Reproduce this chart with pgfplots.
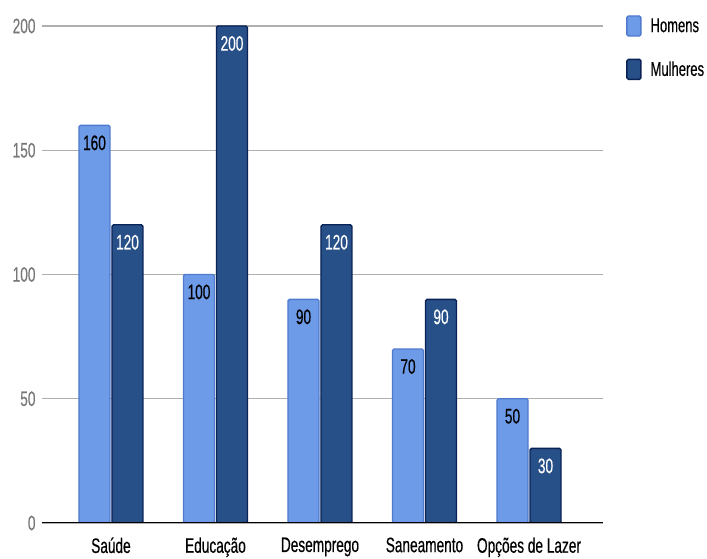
\documentclass[border=0pt]{standalone}
\usepackage{fontspec}
\setmainfont[FakeStretch=0.65, FakeBold=0.4]{Liberation Sans}
\usepackage{pgfplots}
\pgfplotsset{compat=1.18}

\definecolor{homfill}{RGB}{110,155,232}
\definecolor{homline}{RGB}{80,122,205}
\definecolor{mulfill}{RGB}{38,80,135}
\definecolor{mulline}{RGB}{10,34,88}
\definecolor{gridgray}{RGB}{175,175,175}
\definecolor{ticktext}{RGB}{120,120,120}

\begin{document}
\begin{tikzpicture}[x=1pt,y=1pt]
\path[use as bounding box] (0,0) rectangle (707,559);
\begin{axis}[
  at={(42pt,36pt)}, anchor=south west,
  scale only axis, width=561pt, height=497pt,
  font=\fontsize{21}{24}\selectfont,
  /pgf/number format/assume math mode=true,
  xmin=-0.66, xmax=4.708, ymin=0, ymax=200,
  ybar=2pt, bar width=31pt,
  xtick={0,1,2,3,4},
  xticklabels={Saúde,Educação,Desemprego,Saneamento,Opções de Lazer},
  ytick={0,50,100,150,200},
  ymajorgrids, grid style={gridgray, line width=1.4pt},
  axis line style={draw=none},
  major tick length=0pt, tick style={draw=none},
  yticklabel style={text=ticktext, xshift=-3pt},
  xticklabel style={text=black, yshift=-11pt},
  nodes near coords,
  every node near coord/.append style={anchor=north, yshift=-6pt, font=\fontsize{21}{24}\selectfont},
  legend style={at={(1.041,1.022)}, anchor=north west, draw=none, fill=none,
    inner sep=0pt, row sep=22pt, column sep=9pt,
    font=\fontsize{20}{24}\selectfont,
    nodes={inner sep=0pt, anchor=west}},
  legend cell align=left,
  legend image code/.code={\draw[#1, rounded corners=1.5pt] (0pt,-10pt) rectangle (14pt,10pt);},
]
\addplot[fill=homfill, draw=homline, line width=1.4pt, rounded corners=1.5pt,
  every node near coord/.append style={text=black}]
  coordinates {(0,160) (1,100) (2,90) (3,70) (4,50)};
\addplot[fill=mulfill, draw=mulline, line width=1.4pt, rounded corners=1.5pt,
  every node near coord/.append style={text=white}]
  coordinates {(0,120) (1,200) (2,120) (3,90) (4,30)};
\legend{Homens, Mulheres}
\draw[black, line width=2pt] (rel axis cs:0,0) -- (rel axis cs:1,0);
\end{axis}
\end{tikzpicture}
\end{document}
